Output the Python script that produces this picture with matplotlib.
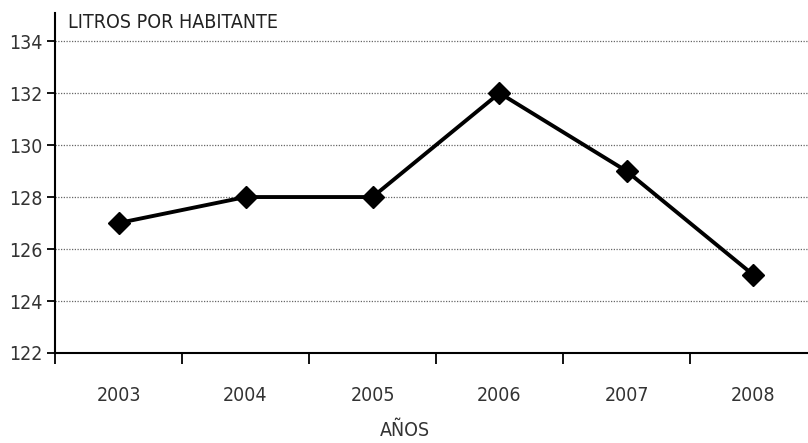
import matplotlib
matplotlib.use("Agg")
import matplotlib.pyplot as plt

years = ["2003", "2004", "2005", "2006", "2007", "2008"]
litros = [127, 128, 128, 132, 129, 125]
yticks = [122, 124, 126, 128, 130, 132, 134]

plt.rcParams["font.family"] = ["DejaVu Sans"]
plt.rcParams["font.stretch"] = "condensed"

W, H = 808, 443
fig = plt.figure(figsize=(W / 100, H / 100), dpi=100)
left, right, bottom, top = 55, 808, 353, 13
ax = fig.add_axes([left / W, 1 - bottom / H, (right - left) / W, (bottom - top) / H])

x = list(range(len(years)))
ax.plot(x, litros, color="black", lw=2.8, marker="D", ms=11, mfc="black", mec="black", zorder=3)

ax.set_ylim(122, 135.08)
ax.set_yticks(yticks)
ax.set_yticklabels([str(v) for v in yticks], fontsize=14, color="#333333")
ax.set_xlim(-0.5, (right - left) / 127 - 0.5)
ax.set_xticks([i - 0.5 for i in range(len(years))])
ax.set_xticklabels([])
ax.set_xticks(x, minor=True)
ax.set_xticklabels(years, minor=True, fontsize=14, color="#333333")
ax.tick_params(axis="x", which="major", length=8, width=1.3, direction="out", color="black")
ax.tick_params(axis="x", which="minor", length=0, pad=24)
ax.tick_params(axis="y", length=6, width=1.3, direction="out", pad=3)

for v in yticks[1:]:
    ax.axhline(v, color="#666666", lw=0.9, ls=(0, (1, 1.2)), zorder=1)

for s in ["top", "right"]:
    ax.spines[s].set_visible(False)
ax.spines["left"].set_linewidth(1.5)
ax.spines["bottom"].set_linewidth(1.5)

fig.text(68 / W, 1 - 22 / H, "LITROS POR HABITANTE", fontsize=14, color="#222222", va="center", ha="left")
fig.text(405 / W, 1 - 431 / H, "AÑOS", fontsize=14, color="#333333", ha="center", va="center")

fig.savefig("out.png", dpi=100)
